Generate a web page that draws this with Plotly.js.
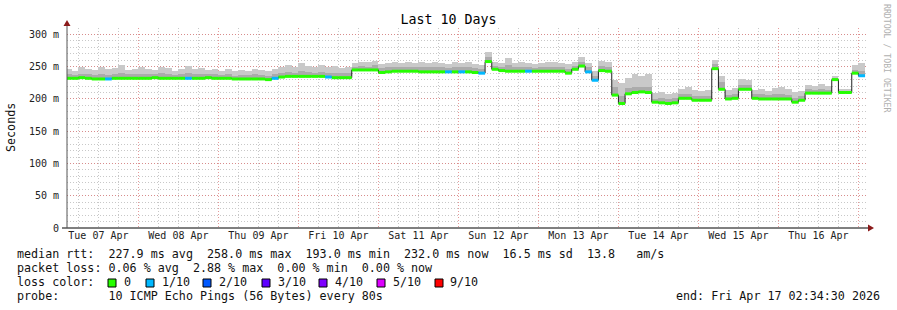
<!DOCTYPE html>
<html><head><meta charset="utf-8">
<script src="https://cdn.plot.ly/plotly-3.0.1.min.js"></script>
<style>html,body{margin:0;padding:0;background:#fff}#chart{width:897px;height:310px}</style>
</head><body><div id="chart"></div>
<script>
// ---- data (2-hour bins starting Tue 07 Apr 02:00) ----
const binStartUTC = [2026, 3, 7, 2, 0, 0];
const binHours = 2;

const medianMs = [
  232,232,233,232,231,231,231,232,232,232,232,
  232,232,233,232,232,232,232,232,232,232,233,232,
  232,232,231,231,231,231,231,230,232,234,235,235,
  235,235,235,235,234,233,233,233,245,245,245,245,
  241,242,243,243,243,243,242,242,242,242,242,242,
  242,242,241,240,258,246,244,243,243,243,243,243,
  243,243,243,243,240,246,251,242,229,244,243,206,
  193,208,210,211,210,195,194,193,194,201,201,198,
  198,198,247,215,200,201,215,215,201,200,200,200,
  200,200,195,198,209,209,209,209,230,210,210,240,
  236
];
const upperMs = [
  238,237,239,238,237,239,237,238,240,238,238,
  239,238,238,240,239,237,238,240,238,239,238,239,
  237,238,236,237,237,238,237,236,238,241,242,241,
  243,242,241,242,241,241,240,241,250,251,250,252,
  248,249,250,249,250,249,250,249,250,249,248,249,
  249,250,248,246,265,251,250,252,249,250,249,248,
  249,250,249,249,247,251,257,249,236,251,250,218,
  205,217,219,219,218,200,201,200,201,207,208,205,
  204,205,254,226,206,208,222,221,207,207,206,207,
  207,206,202,205,215,214,215,214,233,213,213,245,
  244
];
const maxMs = [
  246,244,249,247,245,250,246,248,252,245,247,
  249,246,245,250,248,244,247,251,246,248,245,247,
  244,246,243,245,244,247,245,243,246,250,252,249,
  255,251,250,253,249,251,248,250,256,258,257,259,
  254,256,257,255,258,256,257,255,258,256,254,257,
  255,257,254,252,273,257,256,263,255,257,256,254,
  256,258,257,255,254,258,265,256,243,259,258,230,
  224,232,238,236,238,209,211,208,210,216,218,214,
  212,214,260,236,214,217,231,229,214,216,213,217,
  218,215,211,213,222,220,223,220,236,216,215,252,
  256
];
const lossTenths = [
  0,0,0,0,0,0,1,0,0,0,0,
  0,0,0,0,0,0,0,1,0,0,0,0,
  0,0,0,0,0,0,0,0,1,0,0,0,
  0,0,0,0,1,0,0,0,0,0,0,0,
  0,0,0,0,0,0,0,0,0,0,1,0,
  1,0,0,1,0,0,0,0,0,0,1,0,
  0,0,0,0,0,0,0,1,1,0,0,0,
  0,0,0,0,0,0,0,0,0,0,0,0,
  0,0,0,0,0,0,0,0,0,0,0,0,
  0,0,0,0,0,0,0,0,0,0,0,0,
  1
];
const lossKeys   = [0, 1, 2, 3, 4, 5, 9];
const lossLabels = ['0', '1/10', '2/10', '3/10', '4/10', '5/10', '9/10'];
const lossColors = ['#26ff00', '#00b8ff', '#0059ff', '#5e00ff', '#7e00ff', '#dd00ff', '#ff0000'];

const yTickVals = [0, 50, 100, 150, 200, 250, 300];
const yTickText = ['0', '50 m', '100 m', '150 m', '200 m', '250 m', '300 m'];

const titleText = 'Last 10 Days';
const yTitle = 'Seconds';
const statLine1 = 'median rtt:  227.9 ms avg  258.0 ms max  193.0 ms min  232.0 ms now  16.5 ms sd  13.8   am/s';
const statLine2 = 'packet loss: 0.06 % avg  2.88 % max  0.00 % min  0.00 % now';
const lossLine  = 'loss color:';
const probeLine = 'probe:       10 ICMP Echo Pings (56 Bytes) every 80s';
const endLine   = 'end: Fri Apr 17 02:34:30 2026';
const creditText = 'RRDTOOL / TOBI OETIKER';

// ---- build ----
const pad = n => String(n).padStart(2, '0');
function fmt(ms) {
  const d = new Date(ms);
  return d.getUTCFullYear() + '-' + pad(d.getUTCMonth() + 1) + '-' + pad(d.getUTCDate()) + ' ' +
         pad(d.getUTCHours()) + ':' + pad(d.getUTCMinutes()) + ':' + pad(d.getUTCSeconds());
}
const binMs = binHours * 3600000;
const t0 = Date.UTC(...binStartUTC);
const times = medianMs.map((_, i) => fmt(t0 + (i + 0.5) * binMs));
const nb = s => s.replace(/ /g, '\u00a0');

const traces = [
  { type: 'bar', x: times, base: medianMs, y: maxMs.map((v, i) => v - medianMs[i]),
    width: binMs, marker: { color: '#c9c9c9', line: { width: 0 } }, hoverinfo: 'skip' },
  { type: 'bar', x: times, base: medianMs, y: upperMs.map((v, i) => v - medianMs[i]),
    width: binMs, marker: { color: '#ababab', line: { width: 0 } }, hoverinfo: 'skip' },
  { type: 'scatter', mode: 'lines', x: times, y: medianMs,
    line: { color: '#202020', width: 1, shape: 'hvh' }, hoverinfo: 'skip' }
];
// loss-coloured median segments, one trace per loss level present
lossKeys.forEach((k, li) => {
  const xs = [], ys = [];
  medianMs.forEach((m, i) => {
    if (lossTenths[i] !== k) return;
    xs.push(fmt(t0 + i * binMs), fmt(t0 + (i + 1) * binMs), null);
    ys.push(m, m, null);
  });
  if (xs.length) traces.push({ type: 'scatter', mode: 'lines', x: xs, y: ys, connectgaps: false,
    line: { color: lossColors[li], width: 3 }, hoverinfo: 'skip' });
});

// pixel helpers (plot area: x 67..867, y 28..228)
const PL = 67, PW = 800, PB = 228, PH = 200;
const px = x => (x - PL) / PW;
const py = y => (PB - y) / PH;

const mono = 'DejaVu Sans Mono, monospace';
const txt = (text, x, y, opts = {}) => Object.assign({
  text: nb(text), xref: 'paper', yref: 'paper', x: px(x), y: py(y), showarrow: false,
  xanchor: 'left', yanchor: 'middle', font: { family: mono, size: 11.7, color: '#111' }
}, opts);

const boxX = [108, 146, 203, 262, 319, 377, 435];
const labelX = [122, 160, 217, 276, 333, 391, 448];

const annotations = [
  txt(statLine1, 15, 254),
  txt(statLine2, 15, 268),
  txt(lossLine, 15, 282),
  txt(probeLine, 15, 296),
  txt(endLine, 882, 296, { xanchor: 'right' }),
  txt(yTitle, 11, 127, { xanchor: 'center', textangle: -90 }),
  txt(creditText, 887, 59, { xanchor: 'center', textangle: 90, font: { family: mono, size: 8.2, color: '#b0b0b0' } })
];
lossLabels.forEach((lab, i) => annotations.push(txt(lab, labelX[i], 282)));

const shapes = [
  { type: 'line', xref: 'paper', yref: 'paper', x0: px(62), x1: px(869), y0: 0, y1: 0, line: { color: '#000', width: 1 } },
  { type: 'line', xref: 'paper', yref: 'paper', x0: 0, x1: 0, y0: 0, y1: py(24), line: { color: '#555', width: 1 } },
  { type: 'path', xref: 'paper', yref: 'paper', path: `M ${px(868)} ${py(224.5)} L ${px(874)} ${py(228)} L ${px(868)} ${py(231.5)} Z`,
    fillcolor: '#8b1a1a', line: { width: 0 } },
  { type: 'path', xref: 'paper', yref: 'paper', path: `M ${px(63.5)} ${py(26)} L ${px(67)} ${py(20)} L ${px(70.5)} ${py(26)} Z`,
    fillcolor: '#8b1a1a', line: { width: 0 } }
];
lossColors.forEach((c, i) => shapes.push({
  type: 'rect', xref: 'paper', yref: 'paper', x0: px(boxX[i]), x1: px(boxX[i] + 8), y0: py(287), y1: py(279),
  fillcolor: c, line: { color: '#000', width: 1 }
}));

const majorGrid = 'rgba(220,120,120,0.75)';
const minorGrid = '#c8c8c8';
const dots = '1px,2px';

const layout = {
  width: 897, height: 310,
  margin: { l: 67, r: 30, t: 28, b: 82, pad: 0 },
  paper_bgcolor: '#ffffff', plot_bgcolor: '#ffffff',
  showlegend: false, barmode: 'overlay', bargap: 0,
  font: { family: mono, size: 10, color: '#222' },
  title: { text: titleText, x: 0.5, xref: 'container', xanchor: 'center', y: 1 - 19 / 310, yref: 'container', yanchor: 'middle',
           font: { family: mono, size: 13.3, color: '#000' } },
  xaxis: {
    type: 'date', range: ['2026-04-07 02:34:30', '2026-04-17 02:34:30'],
    tickmode: 'linear', tick0: '2026-04-07 00:00:00', dtick: 86400000,
    ticklabelmode: 'period', tickformat: '%a %d %b',
    showgrid: true, gridcolor: majorGrid, griddash: dots, gridwidth: 1,
    minor: { tickmode: 'linear', tick0: '2026-04-07 00:00:00', dtick: 21600000, showgrid: true, gridcolor: minorGrid, griddash: dots, gridwidth: 1 },
    ticks: '', showline: false, zeroline: false, fixedrange: true,
    tickfont: { family: mono, size: 10, color: '#222' }
  },
  yaxis: {
    range: [0, 310], tickmode: 'array', tickvals: yTickVals, ticktext: yTickText,
    showgrid: true, gridcolor: majorGrid, griddash: dots, gridwidth: 1,
    minor: { tickmode: 'linear', tick0: 0, dtick: 10, showgrid: true, gridcolor: minorGrid, griddash: dots, gridwidth: 1 },
    ticks: 'outside', ticklen: 5, tickcolor: 'rgba(0,0,0,0)',
    zeroline: false, showline: false, fixedrange: true,
    tickfont: { family: mono, size: 10, color: '#222' }
  },
  shapes, annotations
};

Plotly.newPlot('chart', traces, layout, { displayModeBar: false, staticPlot: true });
</script>
</body></html>
